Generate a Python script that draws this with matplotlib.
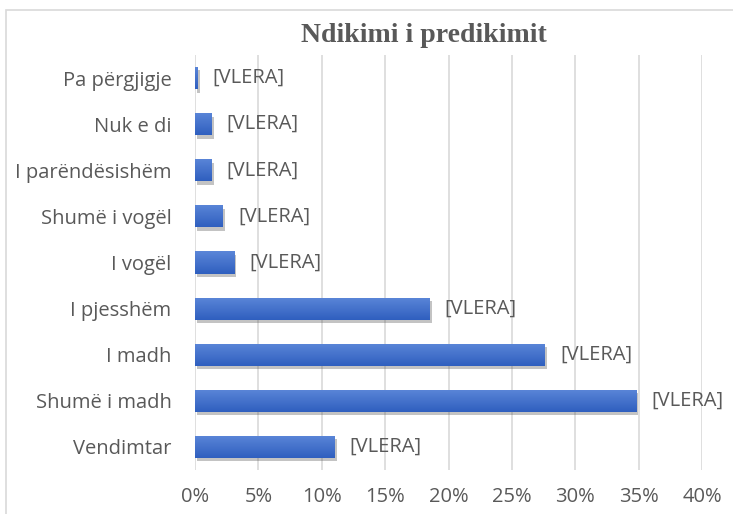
import matplotlib
matplotlib.use('Agg')
import matplotlib.pyplot as plt
import matplotlib.patheffects as pe
import numpy as np
from matplotlib.patches import Rectangle
from matplotlib.ticker import PercentFormatter

# data (bottom to top)
categories = ["Vendimtar", "Shumë i madh", "I madh", "I pjesshëm", "I vogël",
              "Shumë i vogël", "I parëndësishëm", "Nuk e di", "Pa përgjigje"]
values = [0.110, 0.348, 0.276, 0.185, 0.031, 0.022, 0.013, 0.013, 0.002]
xticks = [0, 0.05, 0.10, 0.15, 0.20, 0.25, 0.30, 0.35, 0.40]
label_text = "[VLERA]"
title = "Ndikimi i predikimit"

plt.rcParams['font.family'] = ['Open Sans', 'DejaVu Sans']
text_col = '#595959'

fig = plt.figure(figsize=(7.33, 5.14), dpi=100)
ax = fig.add_axes([195 / 733, 1 - 470 / 514, (702 - 195) / 733, (470 - 55) / 514])

# chart border (extends beyond the picture on right/bottom)
fig.patches.append(Rectangle((6 / 733, -0.1), 1.2, 1 - 10 / 514 + 0.1,
                             transform=fig.transFigure, fill=False,
                             edgecolor='#d9d9d9', linewidth=1.2))

ypos = range(len(categories))
bh = 0.48
bars = ax.barh(ypos, values, height=bh, color='#3f6fcc', zorder=3)

# vertical gradient inside each bar + soft shadow
grad = np.linspace(0, 1, 64).reshape(-1, 1)
cmap = matplotlib.colors.LinearSegmentedColormap.from_list('g', ['#2f5fbf', '#5b86d8'])
for b, y, v in zip(bars, ypos, values):
    b.set_path_effects([pe.SimplePatchShadow(offset=(1.5, -2.5), shadow_rgbFace='#555555', alpha=0.35),
                        pe.Normal()])
    im = ax.imshow(grad, cmap=cmap, aspect='auto', origin='lower',
                   extent=(0, v, y - bh / 2, y + bh / 2), zorder=4)
    im.set_clip_path(b)

for y, v in zip(ypos, values):
    ax.annotate(label_text, (v, y), xytext=(11, 0), textcoords='offset points',
                va='center', ha='left', fontsize=14.5, color=text_col)

ax.set_xlim(0, 0.4)
ax.set_ylim(-0.5, len(categories) - 0.5)
ax.set_xticks(xticks)
ax.xaxis.set_major_formatter(PercentFormatter(1.0, decimals=0))
ax.set_yticks(list(ypos))
ax.set_yticklabels(categories)
ax.tick_params(axis='both', length=0, labelsize=14.5, labelcolor=text_col)
ax.tick_params(axis='x', pad=12)
ax.tick_params(axis='y', pad=17)
ax.grid(axis='x', color='#d9d9d9', linewidth=1.2, zorder=0)
for s in ax.spines.values():
    s.set_visible(False)

fig.text(424 / 733, 1 - 35 / 514, title, ha='center', va='center',
         fontsize=20, fontweight='bold', family='Liberation Serif', color='#595959')

fig.savefig('out.png', dpi=100)
